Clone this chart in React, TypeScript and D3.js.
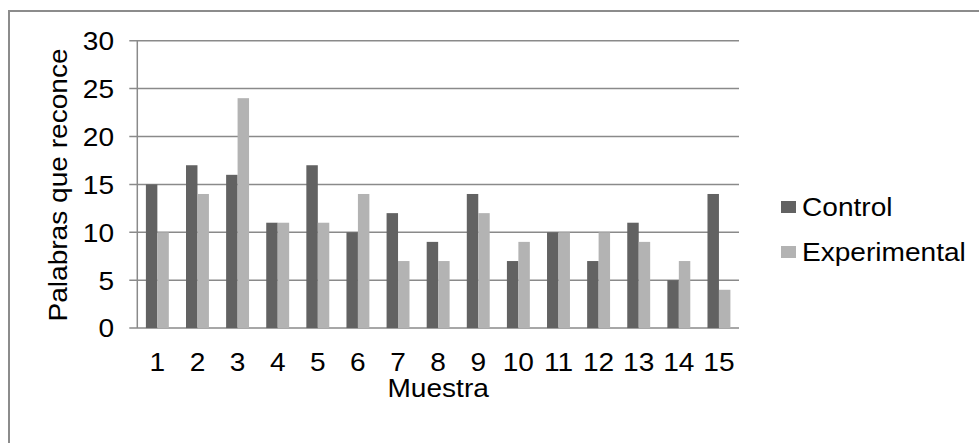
import { useRef, useEffect } from 'react';
import * as d3 from 'd3';

const CATEGORIES = ['1', '2', '3', '4', '5', '6', '7', '8', '9', '10', '11', '12', '13', '14', '15'];
const SERIES_NAMES = ['Control', 'Experimental'];
const CONTROL = [15, 17, 16, 11, 17, 10, 12, 9, 14, 7, 10, 7, 11, 5, 14];
const EXPERIMENTAL = [10, 14, 24, 11, 11, 14, 7, 7, 12, 9, 10, 10, 9, 7, 4];
const Y_TICKS = [0, 5, 10, 15, 20, 25, 30];
const COLORS = ['#626262', '#b3b3b3'];

const VW = 979, VH = 443;
const PLOT = { left: 137.3, right: 739, top: 40.7, bottom: 328.1 };
const FONT = '"Liberation Sans", Arial, sans-serif';
const FS = 26;
const SX = 1.08; // the reference text is drawn a bit wider than plain Arial

export default function App() {
  const svgRef = useRef<SVGSVGElement>(null);

  useEffect(() => {
    const svg = d3.select(svgRef.current);
    svg.selectAll('*').remove();

    const x = d3.scaleBand<string>().domain(CATEGORIES)
      .range([PLOT.left, PLOT.right]).paddingInner(1.5 / 3.5).paddingOuter(0.75 / 3.5);
    const xs = d3.scaleBand<string>().domain(SERIES_NAMES).range([0, x.bandwidth()]);
    const y = d3.scaleLinear().domain([0, 30]).range([PLOT.bottom, PLOT.top]);

    // outer chart frame (right/bottom edges fall outside the picture)
    svg.append('rect').attr('x', 9).attr('y', 11).attr('width', 1100).attr('height', 600)
      .attr('fill', 'none').attr('stroke', '#8c8c8c').attr('stroke-width', 2);

    // gridlines + tick marks
    svg.append('g').selectAll('line').data(Y_TICKS).join('line')
      .attr('x1', PLOT.left - 8).attr('x2', PLOT.right)
      .attr('y1', d => y(d)).attr('y2', d => y(d))
      .attr('stroke', '#8a8a8a').attr('stroke-width', 1.5);

    svg.append('line').attr('x1', PLOT.left).attr('x2', PLOT.left)
      .attr('y1', PLOT.top).attr('y2', PLOT.bottom)
      .attr('stroke', '#8a8a8a').attr('stroke-width', 1.5);

    // bars
    const data = [CONTROL, EXPERIMENTAL];
    SERIES_NAMES.forEach((s, k) => {
      svg.append('g').selectAll('rect').data(data[k]).join('rect')
        .attr('x', (_, i) => (x(CATEGORIES[i]) ?? 0) + (xs(s) ?? 0))
        .attr('width', xs.bandwidth())
        .attr('y', d => y(d)).attr('height', d => y(0) - y(d))
        .attr('fill', COLORS[k]);
    });

    const txt = (g: d3.Selection<any, any, any, any>, tx: number, ty: number, rot = 0) =>
      g.append('text').attr('transform', `translate(${tx},${ty}) rotate(${rot}) scale(${SX},1)`)
        .attr('font-family', FONT).attr('font-size', FS).attr('fill', '#000');

    // y tick labels
    Y_TICKS.forEach(t => {
      txt(svg, 114, y(t), 0).attr('text-anchor', 'end').attr('dy', '0.36em').text(String(t));
    });

    // x tick labels
    CATEGORIES.forEach(c => {
      txt(svg, (x(c) ?? 0) + x.bandwidth() / 2, 371, 0).attr('text-anchor', 'middle').text(c);
    });

    // axis titles
    txt(svg, (PLOT.left + PLOT.right) / 2, 397, 0).attr('text-anchor', 'middle').text('Muestra');
    txt(svg, 67, 185, -90).attr('text-anchor', 'middle').text('Palabras que reconce');

    // legend
    const legY = [207, 252];
    SERIES_NAMES.forEach((s, k) => {
      svg.append('rect').attr('x', 781).attr('y', legY[k] - 6).attr('width', 15).attr('height', 12)
        .attr('fill', COLORS[k]);
      txt(svg, 802, legY[k], 0).attr('dy', '0.36em').text(s);
    });
  }, []);

  return (
    <svg
      ref={svgRef}
      width={VW}
      height={VH}
      viewBox={`0 0 ${VW} ${VH}`}
      style={{ position: 'absolute', left: 0, top: 0, background: '#fff' }}
    />
  );
}
